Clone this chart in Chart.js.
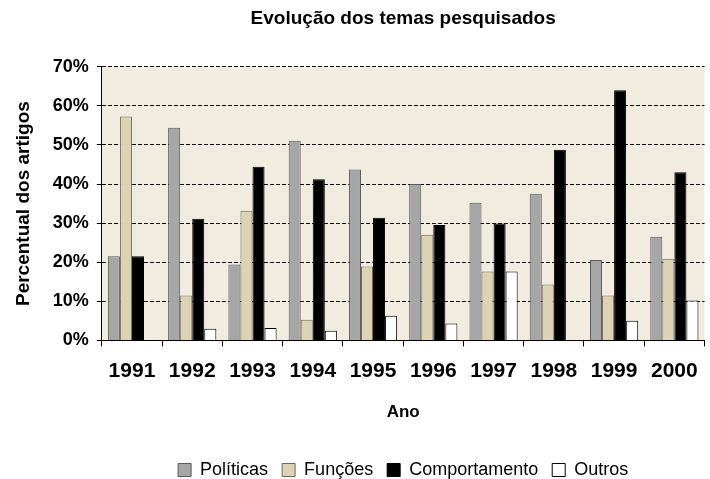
<!DOCTYPE html>
<html>
<head>
<meta charset="utf-8">
<script src="https://cdn.jsdelivr.net/npm/chart.js@4"></script>
<style>
html,body{margin:0;padding:0;background:#fff;}
#wrap{width:710px;height:479px;}
</style>
</head>
<body>
<div id="wrap"><canvas id="c" width="710" height="479"></canvas></div>
<script>
const years = ['1991','1992','1993','1994','1995','1996','1997','1998','1999','2000'];
const politicas = [21.5, 54.4, 19.4, 51.1, 43.7, 40.0, 35.2, 37.5, 20.6, 26.5];
const funcoes = [57.3, 11.5, 33.2, 5.3, 18.9, 27.0, 17.6, 14.3, 11.5, 20.9];
const comportamento = [21.5, 31.1, 44.4, 41.2, 31.4, 29.5, 29.9, 48.8, 64.0, 43.0];
const outros = [0, 3.0, 3.2, 2.5, 6.3, 4.3, 17.6, 0, 5.0, 10.2];
const yTicks = [0, 10, 20, 30, 40, 50, 60, 70];

const FONT = "'Liberation Sans', Arial, sans-serif";

const bgPlugin = {
  id: 'plotBg',
  beforeDraw(chart) {
    const a = chart.chartArea, ctx = chart.ctx;
    ctx.save();
    ctx.fillStyle = '#F2EBE0';
    ctx.fillRect(a.left, a.top, a.right - a.left, a.bottom - a.top);
    ctx.restore();
  }
};

new Chart(document.getElementById('c'), {
  type: 'bar',
  data: {
    labels: years,
    datasets: [
      { label: 'Políticas', data: politicas, backgroundColor: '#A6A6A6', borderColor: '#595959', borderWidth: 1 },
      { label: 'Funções', data: funcoes, backgroundColor: '#DCD2B4', borderColor: '#6E6A5C', borderWidth: 1 },
      { label: 'Comportamento', data: comportamento, backgroundColor: '#000000', borderColor: '#000000', borderWidth: 1 },
      { label: 'Outros', data: outros, backgroundColor: '#FFFFFF', borderColor: '#000000', borderWidth: 1 }
    ]
  },
  options: {
    responsive: false,
    animation: false,
    devicePixelRatio: 1,
    layout: { padding: { left: 12, right: 4, top: 7, bottom: -10 } },
    datasets: { bar: { categoryPercentage: 0.8, barPercentage: 1.0 } },
    plugins: {
      title: {
        display: true,
        fullSize: false,
        text: 'Evolução dos temas pesquisados',
        color: '#000',
        font: { family: FONT, size: 19, weight: 'bold' },
        padding: { top: 0, bottom: 37 }
      },
      legend: {
        position: 'bottom',
        fullSize: false,
        labels: {
          color: '#000',
          font: { family: FONT, size: 18 },
          boxWidth: 13,
          boxHeight: 13,
          padding: 14
        }
      },
      tooltip: { enabled: false }
    },
    scales: {
      x: {
        grid: { offset: true, drawOnChartArea: false, color: '#000', tickLength: 6, lineWidth: 1 },
        border: { display: true, color: '#000', width: 1 },
        ticks: { color: '#000', font: { family: FONT, size: 21, weight: 'bold' }, padding: 12, maxRotation: 0 },
        title: { display: true, text: 'Ano', color: '#000', font: { family: FONT, size: 17, weight: 'bold' }, padding: { top: 7, bottom: 24 } }
      },
      y: {
        min: 0,
        max: 70,
        afterBuildTicks(scale) { scale.ticks = yTicks.map(v => ({ value: v })); },
        grid: { color: '#000', tickLength: 5, lineWidth: 1 },
        border: { display: true, color: '#000', width: 1, dash: [4, 2] },
        ticks: { color: '#000', font: { family: FONT, size: 18, weight: 'bold' }, padding: 8, callback: v => v + '%' },
        title: { display: true, text: 'Percentual dos artigos', color: '#000', font: { family: FONT, size: 19, weight: 'bold' }, padding: { top: 0, bottom: 10 } }
      }
    }
  },
  plugins: [bgPlugin]
});
</script>
</body>
</html>
